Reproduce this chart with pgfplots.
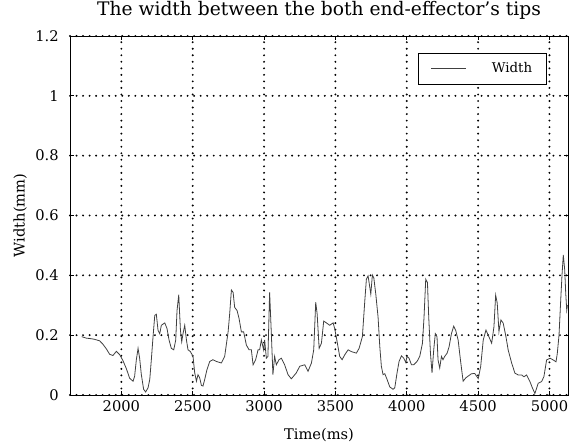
\documentclass[border=0pt]{standalone}
\usepackage{pgfplots}
\pgfplotsset{compat=1.18}
\usepackage{fontspec}
\setmainfont{DejaVu Serif}
\pgfplotstableread{
t w
1722 0.195
1755 0.190
1790 0.188
1813 0.186
1848 0.181
1870 0.170
1895 0.154
1918 0.136
1941 0.132
1965 0.146
1988 0.135
2011 0.115
2035 0.088
2058 0.056
2082 0.046
2093 0.063
2105 0.118
2117 0.156
2128 0.123
2140 0.068
2156 0.019
2170 0.010
2187 0.024
2199 0.052
2210 0.118
2222 0.195
2234 0.266
2245 0.270
2257 0.216
2269 0.205
2280 0.233
2304 0.241
2320 0.222
2334 0.184
2350 0.156
2367 0.151
2381 0.184
2390 0.282
2402 0.335
2414 0.216
2423 0.178
2432 0.205
2444 0.233
2456 0.184
2467 0.151
2484 0.145
2502 0.129
2514 0.074
2526 0.046
2537 0.068
2549 0.057
2561 0.032
2572 0.030
2584 0.052
2600 0.085
2619 0.112
2642 0.118
2666 0.112
2701 0.107
2724 0.129
2748 0.211
2759 0.271
2771 0.351
2783 0.343
2794 0.293
2811 0.282
2825 0.255
2841 0.211
2857 0.211
2876 0.167
2895 0.151
2911 0.151
2923 0.101
2941 0.118
2958 0.151
2969 0.151
2981 0.184
2997 0.151
3004 0.184
3016 0.123
3027 0.129
3039 0.343
3051 0.205
3062 0.068
3074 0.129
3086 0.101
3105 0.118
3121 0.123
3144 0.101
3168 0.068
3191 0.054
3226 0.074
3250 0.096
3285 0.101
3308 0.079
3332 0.107
3348 0.151
3362 0.310
3372 0.271
3386 0.156
3402 0.173
3418 0.247
3437 0.241
3460 0.233
3484 0.241
3495 0.222
3512 0.178
3530 0.129
3547 0.118
3565 0.134
3589 0.151
3612 0.145
3647 0.140
3666 0.156
3689 0.195
3706 0.315
3717 0.387
3729 0.398
3741 0.360
3748 0.337
3759 0.401
3769 0.392
3783 0.337
3799 0.260
3811 0.162
3822 0.096
3834 0.068
3846 0.071
3862 0.052
3881 0.027
3904 0.019
3916 0.024
3932 0.074
3946 0.112
3963 0.131
3979 0.123
3993 0.109
4002 0.129
4016 0.123
4033 0.101
4049 0.101
4072 0.112
4091 0.129
4110 0.173
4121 0.260
4133 0.387
4145 0.376
4154 0.260
4166 0.140
4177 0.074
4189 0.151
4200 0.205
4212 0.195
4219 0.118
4231 0.090
4243 0.129
4254 0.118
4266 0.129
4283 0.140
4297 0.162
4313 0.205
4329 0.230
4343 0.216
4360 0.184
4376 0.118
4395 0.046
4413 0.057
4430 0.063
4453 0.071
4476 0.072
4501 0.055
4518 0.095
4536 0.184
4555 0.217
4571 0.200
4595 0.173
4611 0.228
4623 0.334
4634 0.307
4646 0.212
4660 0.251
4676 0.240
4695 0.195
4711 0.150
4735 0.107
4758 0.073
4781 0.067
4805 0.067
4821 0.061
4840 0.067
4863 0.045
4882 0.022
4898 0.005
4921 0.039
4945 0.045
4961 0.061
4980 0.117
5004 0.123
5027 0.117
5046 0.111
5055 0.139
5067 0.200
5079 0.318
5088 0.401
5097 0.468
5107 0.418
5114 0.341
5121 0.284
5126 0.300
}\widthdata
\begin{document}
\begin{tikzpicture}
\useasboundingbox (-52.5pt,-39.75pt) rectangle (375.75pt,296.25pt);
\begin{axis}[
  scale only axis,
  width=373.5pt, height=269.25pt,
  xmin=1640, xmax=5130,
  ymin=0, ymax=1.2,
  xtick={2000,2500,3000,3500,4000,4500,5000},
  ytick={0,0.2,0.4,0.6,0.8,1,1.2},
  yticklabels={0,0.2,0.4,0.6,0.8,1,1.2},
  xticklabels={2000,2500,3000,3500,4000,4500,5000},
  tick align=inside,
  major tick length=3pt,
  tick style={black, line width=0.5pt},
  axis line style={black, line width=0.6pt},
  grid=major,
  major grid style={black, line width=1.6pt, line cap=round, dash pattern=on 0pt off 4.9pt},
  ticklabel style={font=\fontsize{11}{13}\selectfont},
  yticklabel style={xshift=-5pt},
  xticklabel style={yshift=-1pt},
  title={The width between the both end-effector's tips},
  title style={font=\fontsize{14}{16}\selectfont, at={(axis description cs:0.5,1.05)}, anchor=center},
  xlabel={Time(ms)},
  ylabel={Width(mm)},
  label style={font=\fontsize{11}{13}\selectfont},
  xlabel style={at={(axis description cs:0.5,-0.111)}, anchor=center},
  ylabel style={at={(axis description cs:-0.100,0.5)}, anchor=center},
  legend style={at={(0.958,0.953)}, anchor=north east, draw=black, line width=0.5pt,
    fill=white, inner xsep=9pt, inner ysep=5pt, font=\fontsize{10}{12}\selectfont},
  legend cell align=left,
  legend image code/.code={\draw[#1, line width=0.8pt] (0pt,0pt) -- (26pt,0pt);},
]
\addplot[black!75, line width=0.6pt] table[x=t, y=w] {\widthdata};
\addlegendentry{\hspace{17pt}Width\hspace{8pt}}
\end{axis}
\end{tikzpicture}
\end{document}
